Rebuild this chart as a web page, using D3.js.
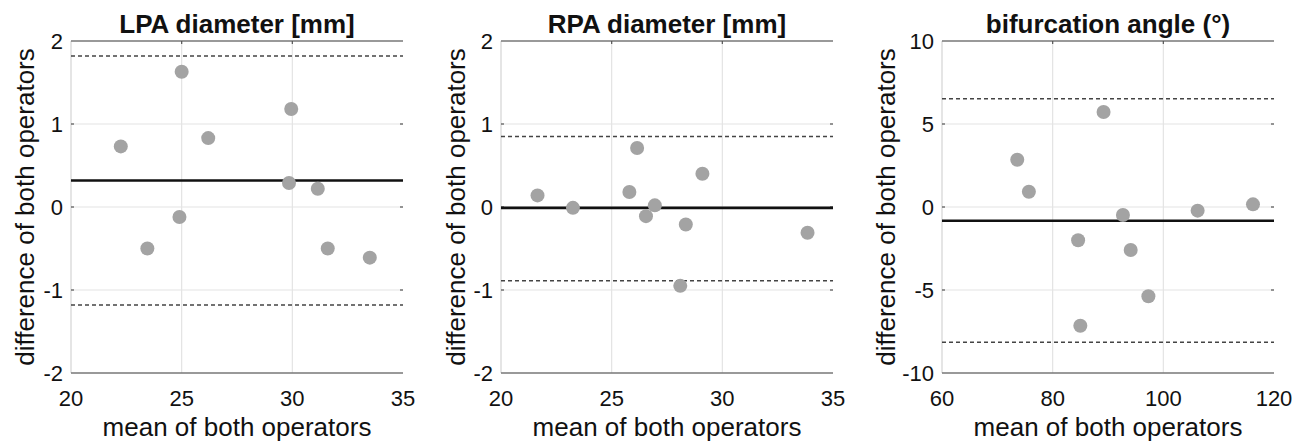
<!DOCTYPE html>
<html>
<head>
<meta charset="utf-8">
<script src="https://cdn.jsdelivr.net/npm/d3@7"></script>
<style>
  body { margin: 0; background: #fff; }
  svg text { font-family: "Liberation Sans", Arial, sans-serif; fill: #111; }
  .title { font-weight: bold; font-size: 26px; }
  .tick-label { font-size: 22px; }
  .axis-label { font-size: 26px; }
</style>
</head>
<body>
<svg id="chart"></svg>
<script>
// panel titles
const titles = ['LPA diameter [mm]', 'RPA diameter [mm]', 'bifurcation angle (°)'];

// LPA diameter: mean vs difference of both operators
const lpaMean = [22.25, 23.45, 25.0, 24.9, 26.2, 29.95, 29.85, 31.15, 31.6, 33.5];
const lpaDiff = [0.73, -0.50, 1.63, -0.12, 0.83, 1.18, 0.29, 0.22, -0.50, -0.61];
const lpaLines = [0.32, 1.82, -1.18];  // bias, upper LoA, lower LoA

// RPA diameter
const rpaMean = [21.65, 23.25, 25.8, 26.15, 26.55, 26.95, 28.35, 29.1, 28.1, 33.85];
const rpaDiff = [0.14, -0.01, 0.18, 0.71, -0.11, 0.02, -0.21, 0.40, -0.95, -0.31];
const rpaLines = [-0.01, 0.85, -0.89];

// bifurcation angle
const angMean = [73.6, 75.7, 89.2, 84.6, 85.0, 92.7, 94.1, 97.3, 106.2, 116.2];
const angDiff = [2.85, 0.92, 5.72, -2.0, -7.15, -0.48, -2.59, -5.38, -0.22, 0.16];
const angLines = [-0.83, 6.52, -8.15];

// axis domains and ticks
const xDomains = [[20, 35], [20, 35], [60, 120]];
const yDomains = [[-2, 2], [-2, 2], [-10, 10]];
const xTicks = [[20, 25, 30, 35], [20, 25, 30, 35], [60, 80, 100, 120]];
const yTicks = [[-2, -1, 0, 1, 2], [-2, -1, 0, 1, 2], [-10, -5, 0, 5, 10]];

const panels = [
  {mean: lpaMean, diff: lpaDiff, lines: lpaLines, left: 71, ylabOff: 37},
  {mean: rpaMean, diff: rpaDiff, lines: rpaLines, left: 501, ylabOff: 36},
  {mean: angMean, diff: angDiff, lines: angLines, left: 942, ylabOff: 47}
];

const W = 1309, H = 443;
const plotTop = 41, plotW = 332, plotH = 332;

const svg = d3.select('#chart').attr('width', W).attr('height', H);

panels.forEach((p, i) => {
  const g = svg.append('g').attr('transform', `translate(${p.left},${plotTop})`);

  const x = d3.scaleLinear().domain(xDomains[i]).range([0, plotW]);
  const y = d3.scaleLinear().domain(yDomains[i]).range([plotH, 0]);

  // grid
  g.selectAll('.vgrid').data(xTicks[i].slice(1, -1)).join('line')
      .attr('x1', d => x(d)).attr('x2', d => x(d))
      .attr('y1', 0).attr('y2', plotH)
      .attr('stroke', '#e3e3e3').attr('stroke-width', 1.2);
  g.selectAll('.hgrid').data(yTicks[i].slice(1, -1)).join('line')
      .attr('x1', 0).attr('x2', plotW)
      .attr('y1', d => y(d)).attr('y2', d => y(d))
      .attr('stroke', '#e3e3e3').attr('stroke-width', 1.2);

  // frame: faint left, grey top and bottom
  g.append('line').attr('x1', 0).attr('x2', 0).attr('y1', 0).attr('y2', plotH)
      .attr('stroke', '#d4d4d4').attr('stroke-width', 1.2);
  g.append('line').attr('x1', 0).attr('x2', plotW).attr('y1', 0).attr('y2', 0)
      .attr('stroke', '#777').attr('stroke-width', 1.6);
  g.append('line').attr('x1', 0).attr('x2', plotW).attr('y1', plotH).attr('y2', plotH)
      .attr('stroke', '#777').attr('stroke-width', 1.6);

  // small inward ticks
  const yt = yTicks[i].slice(1, -1);
  g.selectAll('.ytl').data(yt).join('line')
      .attr('x1', 0).attr('x2', 3).attr('y1', d => y(d)).attr('y2', d => y(d))
      .attr('stroke', '#555').attr('stroke-width', 1.2);
  g.selectAll('.ytr').data(yt).join('line')
      .attr('x1', plotW - 3).attr('x2', plotW).attr('y1', d => y(d)).attr('y2', d => y(d))
      .attr('stroke', '#555').attr('stroke-width', 1.2);
  const xt = xTicks[i].slice(1, -1);
  g.selectAll('.xtt').data(xt).join('line')
      .attr('x1', d => x(d)).attr('x2', d => x(d)).attr('y1', 0).attr('y2', 3)
      .attr('stroke', '#555').attr('stroke-width', 1.2);

  // tick labels
  g.selectAll('.xlab').data(xTicks[i]).join('text')
      .attr('class', 'tick-label')
      .attr('x', d => x(d)).attr('y', plotH + 33)
      .attr('text-anchor', 'middle')
      .text(d => d);
  g.selectAll('.ylab').data(yTicks[i]).join('text')
      .attr('class', 'tick-label')
      .attr('x', -8).attr('y', d => y(d) + 8)
      .attr('text-anchor', 'end')
      .text(d => d);

  // limits of agreement (dashed) and bias (solid)
  g.selectAll('.loa').data(p.lines.slice(1)).join('line')
      .attr('x1', 0).attr('x2', plotW)
      .attr('y1', d => y(d)).attr('y2', d => y(d))
      .attr('stroke', '#444').attr('stroke-width', 1.5)
      .attr('stroke-dasharray', '4,3');
  g.append('line')
      .attr('x1', 0).attr('x2', plotW)
      .attr('y1', y(p.lines[0])).attr('y2', y(p.lines[0]))
      .attr('stroke', '#111').attr('stroke-width', 2.6);

  // points
  g.selectAll('circle').data(p.mean.map((m, k) => [m, p.diff[k]])).join('circle')
      .attr('cx', d => x(d[0])).attr('cy', d => y(d[1]))
      .attr('r', 7)
      .attr('fill', '#a3a3a3');

  // titles and axis labels
  g.append('text').attr('class', 'title')
      .attr('x', plotW / 2).attr('y', -8)
      .attr('text-anchor', 'middle')
      .text(titles[i]);
  g.append('text').attr('class', 'axis-label')
      .attr('x', plotW / 2).attr('y', plotH + 63)
      .attr('text-anchor', 'middle')
      .text('mean of both operators');
  g.append('text').attr('class', 'axis-label')
      .attr('transform', `translate(${-p.ylabOff},${plotH / 2})rotate(-90)`)
      .attr('text-anchor', 'middle')
      .text('difference of both operators');
});
</script>
</body>
</html>
